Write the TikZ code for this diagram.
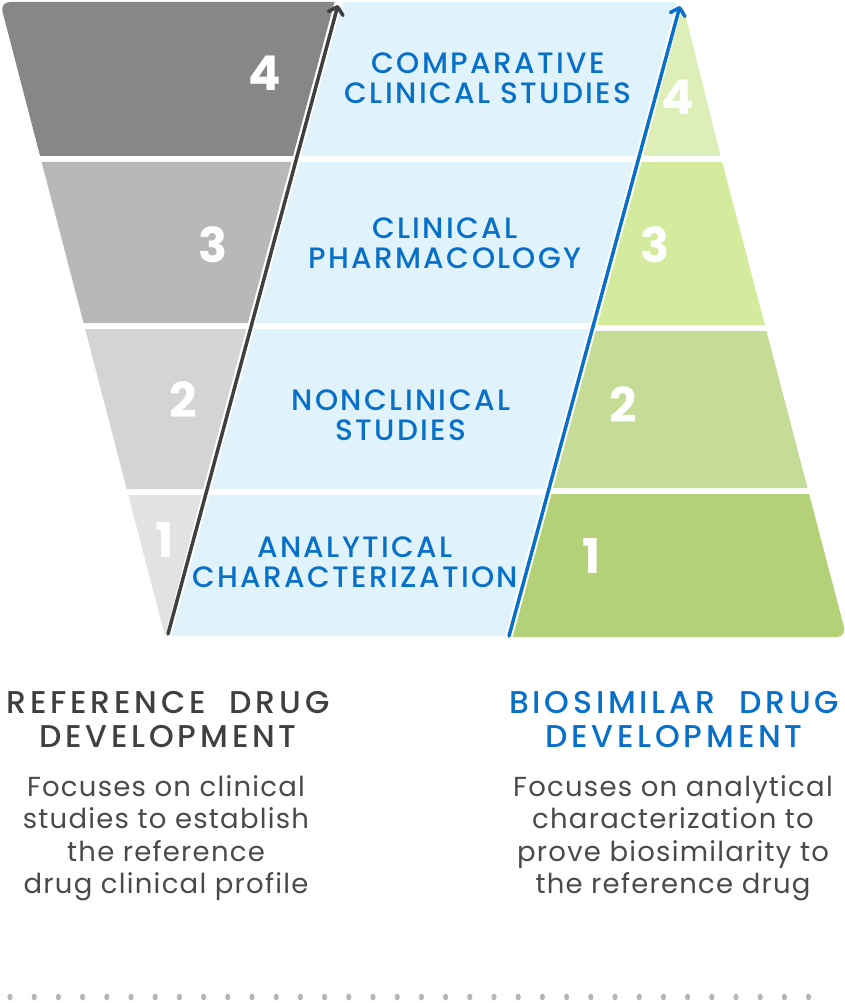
\documentclass[tikz,border=0pt]{standalone}
\usepackage{fontspec}
\setmainfont{Poppins}
\newfontfamily\stagefont{Poppins Medium}[LetterSpace=8]
\newfontfamily\sidefont{Poppins Medium}[LetterSpace=12]
\newfontfamily\blurbfont{Poppins}[LetterSpace=4.5]
\usetikzlibrary{arrows.meta,positioning}
\definecolor{bioblue}{RGB}{8,112,200}
\definecolor{bluefill}{RGB}{225,243,250}
\definecolor{refgray}{RGB}{64,64,64}
\definecolor{bodygray}{RGB}{74,74,74}
\definecolor{dotgray}{RGB}{182,182,182}
\definecolor{grayA}{RGB}{226,226,226}
\definecolor{grayB}{RGB}{212,212,212}
\definecolor{grayC}{RGB}{184,184,184}
\definecolor{grayD}{RGB}{135,135,135}
\definecolor{greenA}{RGB}{181,209,120}
\definecolor{greenB}{RGB}{196,220,149}
\definecolor{greenC}{RGB}{212,235,158}
\definecolor{greenD}{RGB}{221,238,184}
\tikzset{
  stage/.style={font=\stagefont\fontsize{29.5}{30}\selectfont,text=bioblue,align=center,inner sep=0pt},
  num/.style={font=\bfseries\fontsize{48}{48}\selectfont,text=white,inner sep=0pt},
  side/.style={font=\sidefont\fontsize{31.5}{34}\selectfont,align=center,inner sep=0pt},
  blurb/.style={font=\blurbfont\fontsize{27.5}{32.5}\selectfont,text=bodygray,align=center,inner sep=0pt},
  refarr/.style={draw=refgray,line width=3.5pt,line cap=round,
    -{Straight Barb[length=7pt,width=15pt,round]}},
  bioarr/.style={draw=bioblue,line width=3.5pt,line cap=round,
    -{Straight Barb[length=7pt,width=15pt,round]}},
}

\begin{document}
\begin{tikzpicture}[x=1pt,y=-1pt,
  declare function={xl(\t)=0.26025*(\t-2); xd(\t)=168+0.26984*(634-\t);
    xb(\t)=509+0.27143*(636-\t); xg(\t)=681+0.262*(\t-5);}]
\useasboundingbox (0,0) rectangle (845,1003);
% reference funnel
\fill[grayD] ({xl(156)},156) [rounded corners=10pt] -- ({xl(2)},2) [sharp corners]
  -- ({xd(2)-4},2) -- ({xd(156)-4},156) -- cycle;
\fill[grayC] ({xl(162)},162) -- ({xd(162)-4},162) -- ({xd(323)-4},323) -- ({xl(323)},323) -- cycle;
\fill[grayB] ({xl(329)},329) -- ({xd(329)-4},329) -- ({xd(489)-4},489) -- ({xl(489)},489) -- cycle;
\fill[grayA] ({xl(495)},495) -- ({xd(495)-4},495) -- (165,636) -- cycle;
% middle stages
\foreach \a/\b in {2/156,162/323,329/489,495/636}
  \fill[bluefill] ({xd(\a)+4},\a) -- ({xb(\a)-4},\a) -- ({xb(\b)-4},\b) -- ({xd(\b)+4},\b) -- cycle;
% biosimilar pyramid
\fill[greenD] (683,5) -- ({xg(156)},156) -- ({xb(156)+4},156) -- cycle;
\fill[greenC] ({xb(162)+4},162) -- ({xg(162)},162) -- ({xg(325)},325) -- ({xb(325)+4},325) -- cycle;
\fill[greenB] ({xb(331)+4},331) -- ({xg(331)},331) -- ({xg(488)},488) -- ({xb(488)+4},488) -- cycle;
\fill[greenA] ({xb(494)+4},494) -- ({xg(494)},494) [rounded corners=10pt] -- ({xg(637)},637)
  [sharp corners] -- ({xb(637)+4},637) -- cycle;

\coordinate (refbot) at (168,634);
\coordinate (reftop) at (338,5);
\coordinate (biobot) at (509,636);
\coordinate (biotop) at (680,6);
\draw[refarr] (refbot) -- (reftop);
\draw[bioarr] (biobot) -- (biotop);

\node[num] (r4) at (265,73) {4};
\node[num] (r3) at (213,245) {3};
\node[num] (r2) at (183,400) {2};
\node[num] (r1) at (165,540) {1};
\node[num] (b4) at (678,97) {4};
\node[num] (b3) at (655,245) {3};
\node[num] (b2) at (623,405) {2};
\node[num] (b1) at (592,556) {1};

\node[stage] (comp) at (488,78) {COMPARATIVE\\CLINICAL STUDIES};
\node[stage] (pharm) at (445,243) {CLINICAL\\PHARMACOLOGY};
\node[stage] (noncl) at (401,415) {NONCLINICAL\\STUDIES};
\node[stage] (anal) at (355,562) {ANALYTICAL\\CHARACTERIZATION};

\node[side,text=refgray] (refhead) at (168,720) {REFERENCE~~DRUG\\DEVELOPMENT};
\node[side,text=bioblue] (biohead) at (674,720) {BIOSIMILAR~~DRUG\\DEVELOPMENT};
\node[blurb] (reftext) at (166,838) {Focuses on clinical\\studies to establish\\the reference\\drug clinical profile};
\node[blurb] (biotext) at (673,838) {Focuses on analytical\\characterization to\\prove biosimilarity to\\the reference drug};

\foreach \i in {0,...,33}
  \fill[dotgray] ({10+24.2*\i},997) ellipse (2.6 and 3.4);
\end{tikzpicture}
\end{document}
